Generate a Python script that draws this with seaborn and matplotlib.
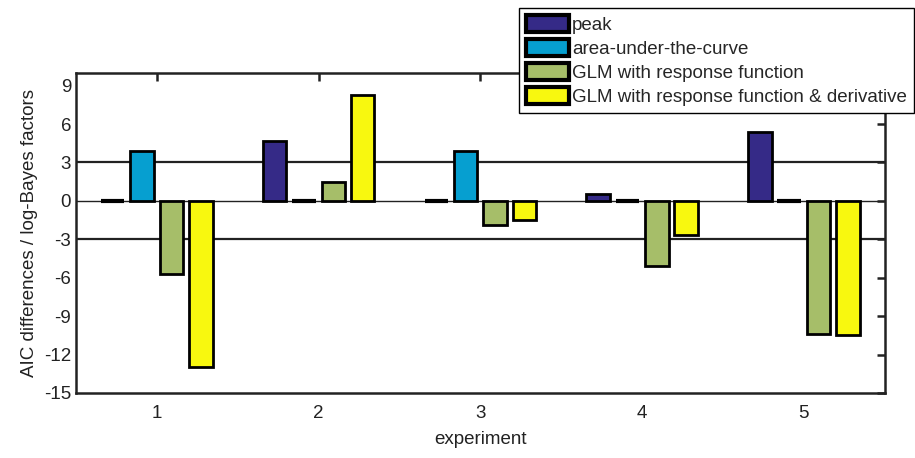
import matplotlib
matplotlib.use('Agg')
import matplotlib.pyplot as plt
import seaborn as sns
import pandas as pd
import numpy as np

# data
experiments = ['1', '2', '3', '4', '5']
models = ['peak', 'area-under-the-curve', 'GLM with response function',
          'GLM with response function & derivative']
peak = [0.0, 4.7, 0.0, 0.5, 5.4]
auc = [3.9, 0.0, 3.9, 0.0, 0.0]
glm = [-5.7, 1.5, -1.9, -5.1, -10.4]
glm_deriv = [-13.0, 8.3, -1.5, -2.7, -10.5]
ref_lines = [3, -3]
colors = ['#352a87', '#069fd0', '#a6be69', '#f8f80f']

df = pd.DataFrame({
    'experiment': experiments * 4,
    'model': np.repeat(models, len(experiments)),
    'value': peak + auc + glm + glm_deriv,
})

sns.set_style('white')
plt.rcParams['font.family'] = ['Liberation Sans', 'DejaVu Sans']
plt.rcParams['axes.unicode_minus'] = False
FS = 13.5

fig = plt.figure(figsize=(9.15, 4.58), dpi=100)
ax = fig.add_axes([0.083, 0.142, 0.884, 0.699])

# reference lines behind the bars
for y in ref_lines:
    ax.axhline(y, color='#222222', lw=1.6, zorder=0)
ax.axhline(0, color='#222222', lw=1.0, zorder=0)

sns.barplot(data=df, x='experiment', y='value', hue='model', hue_order=models,
            order=experiments, palette=colors, width=0.727, gap=0.2,
            errorbar=None, edgecolor='black', linewidth=2.0, saturation=1,
            ax=ax, zorder=2)

# zero-height bars show up as a thick black dash
for p in ax.patches:
    if hasattr(p, 'get_height') and p.get_height() == 0:
        p.set_linewidth(3.0)

ax.set_xlim(-0.5, 4.5)
ax.set_ylim(-15, 10)
ax.set_yticks(np.arange(-15, 10, 3))
ax.set_xlabel('experiment', fontsize=FS, labelpad=6, color='#222222')
ax.set_ylabel('AIC differences / log-Bayes factors', fontsize=FS,
              labelpad=4, color='#222222')

for s in ax.spines.values():
    s.set_visible(True)
    s.set_linewidth(1.8)
    s.set_color('#222222')
ax.tick_params(direction='in', length=6, width=1.8, color='#222222',
               top=True, right=True, labelsize=FS, labelcolor='#222222')
ax.tick_params(axis='x', pad=9)

leg = ax.legend(loc='upper left', bbox_to_anchor=(0.567, 0.9825),
                bbox_transform=fig.transFigure, borderaxespad=0,
                fancybox=False, framealpha=1, edgecolor='black',
                handlelength=2.3, handleheight=1.0, handletextpad=0.15,
                labelspacing=0.28, borderpad=0.38, fontsize=FS)
leg.get_frame().set_linewidth(1.0)
leg.set_zorder(10)

fig.savefig('out.png', dpi=100)
